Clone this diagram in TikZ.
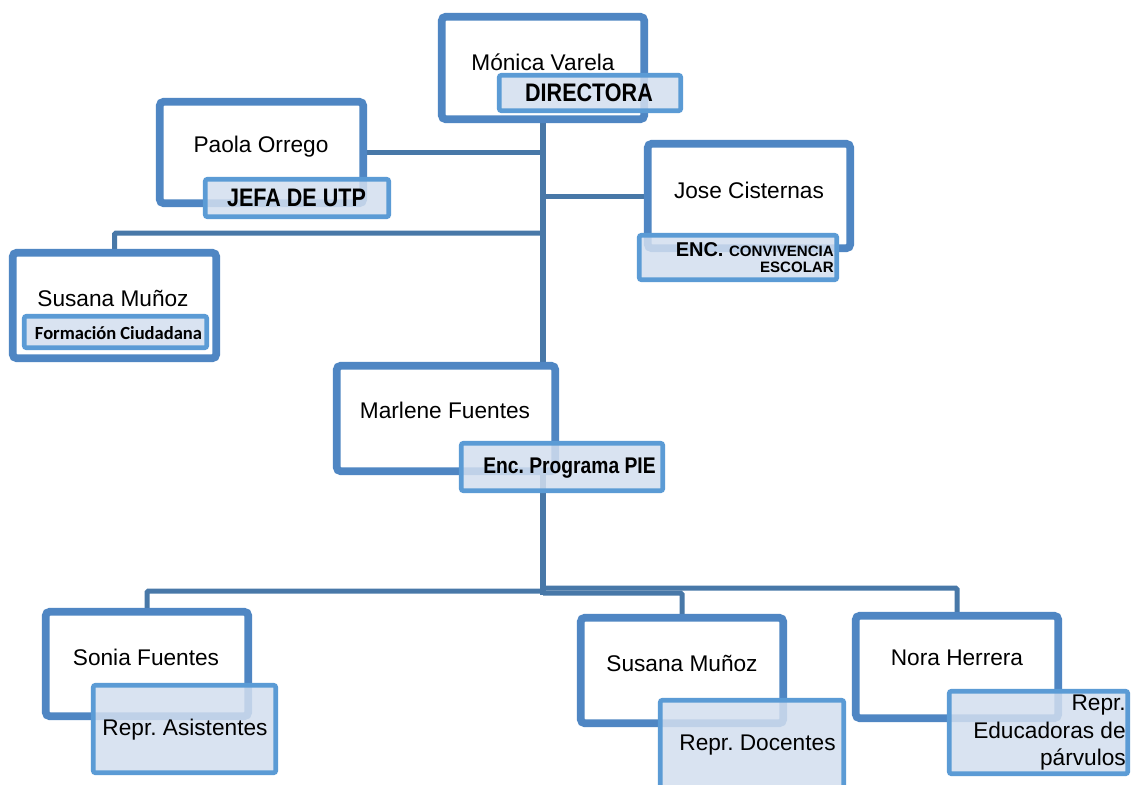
\documentclass[tikz,border=0pt]{standalone}
\usepackage{fontspec}
\setmainfont{Liberation Sans}
\newfontfamily\narrowfont{Liberation Sans}[FakeStretch=0.85]
\newfontfamily\calfont{Carlito}
\usetikzlibrary{shadows,backgrounds}
\frenchspacing

\definecolor{frame}{HTML}{4F86C3}
\definecolor{wire}{HTML}{4878A8}
\definecolor{tagline}{HTML}{5B9BD5}
\definecolor{tagfill}{HTML}{D3DFEF}

\tikzset{
  dims/.style 2 args={minimum width=#1*0.75pt, minimum height=#2*0.75pt},
  person/.style={draw=frame, line width=5.8pt, fill=white, rounded corners=3pt,
    inner sep=0pt, drop shadow={opacity=0.28, shadow xshift=1.8pt, shadow yshift=-2.2pt}},
  role/.style={draw=tagline, line width=3.4pt, fill=tagfill, fill opacity=0.85,
    rounded corners=1.5pt, inner sep=0pt},
  nametext/.style={inner sep=0pt, font=\fontsize{17pt}{20pt}\selectfont},
  roletext/.style={inner sep=0pt, font=\fontsize{17pt}{20.6pt}\selectfont},
  boldtag/.style={inner sep=0pt, font=\narrowfont\bfseries\fontsize{19pt}{22pt}\selectfont},
  trunk/.style={draw=wire, line width=4.5pt},
  branch/.style={draw=wire, line width=3.75pt, rounded corners=1pt},
}

\begin{document}
\begin{tikzpicture}[x=0.75pt, y=-0.75pt]
\useasboundingbox (0,0) rectangle (1132,785);

% people
\node[person, dims={202.5}{102.5}] (mv) at (543,68) {};
\node[person, dims={203.5}{101.5}] (pa) at (261.5,152.5) {};
\node[person, dims={202.5}{104.5}] (jc) at (749,196) {};
\node[person, dims={203.5}{105.5}] (sl) at (114.5,305.5) {};
\node[person, dims={218.5}{105.5}] (mf) at (446,418.5) {};
\node[person, dims={202.5}{104.5}] (sf) at (147,664) {};
\node[person, dims={202.5}{105.5}] (sb) at (682,670.5) {};
\node[person, dims={202.5}{102.5}] (nh) at (957,667) {};

% branching points
\coordinate (j1) at (543,233);
\coordinate (hubS) at (543,591);
\coordinate (hubD) at (543,593);
\coordinate (hubN) at (543,588);
\coordinate (hubEnd) at (543,595);

% connectors, behind the boxes
\begin{pgfonlayer}{background}
\fill[white] (0,0) rectangle (1132,785);
\path[trunk] (mv.south) -- (mv.south |- mf.north);
\path[branch] (pa.east) -- (pa.east -| mv.south);
\path[branch] (jc.west) -- (jc.west -| mv.south);
\path[branch] (j1) -| (sl.north);
\path[trunk] (mv.south |- mf.south) -- (hubEnd);
\path[branch] (hubS) -| (sf.north);
\path[branch] (hubD) -| (sb.north);
\path[branch] (hubN) -| (nh.north);
\end{pgfonlayer}

% role boxes
\node[role, dims={181.5}{35.5}] (mvl) at (590,93) {};
\node[role, dims={183.5}{37.5}] (pal) at (297,198) {};
\node[role, dims={197.5}{44.5}] (jcl) at (738,257.5) {};
\node[role, dims={182.5}{31.5}] (sll) at (115.5,332) {};
\node[role, dims={201.5}{47.5}] (mfl) at (562,467) {};
\node[role, dims={182.5}{87.5}] (sfl) at (184.5,729) {};
\node[role, dims={183.5}{87.5}] (sbl) at (752,744) {};
\node[role, dims={178.5}{82.5}] (nhl) at (1038.5,732.5) {};

% names
\node[nametext] (mvt) at (543,62) {Mónica Varela};
\node[nametext] (pat) at (261,147) {Paola Orrego};
\node[nametext] (jct) at (749,190) {Jose Cisternas};
\node[nametext] (slt) at (113,298) {Susana Muñoz};
\node[nametext] (mft) at (445,410) {Marlene Fuentes};
\node[nametext] (sft) at (146,657) {Sonia Fuentes};
\node[nametext] (sbt) at (682,663) {Susana Muñoz};
\node[nametext] (nht) at (957,658) {Nora Herrera};

% roles
\node[boldtag] (mvlt) at (589,93) {DIRECTORA};
\node[boldtag] (palt) at (296.5,198) {JEFA DE UTP};
\node[inner sep=0pt, anchor=east, align=right] (jclt) at (834,258)
  {{\bfseries\fontsize{15pt}{15pt}\selectfont ENC. }{\bfseries\fontsize{11.3pt}{15pt}\selectfont CONVIVENCIA}\\
   {\bfseries\fontsize{11.3pt}{15pt}\selectfont ESCOLAR}};
\node[inner sep=0pt, font=\calfont\bfseries\fontsize{13.9pt}{16pt}\selectfont] (sllt) at (118.5,333) {Formación Ciudadana};
\node[boldtag, font=\narrowfont\bfseries\fontsize{17pt}{20pt}\selectfont] (mflt) at (569.5,468) {Enc. Programa PIE};
\node[roletext] (sflt) at (185,730) {Repr. Asistentes};
\node[roletext] (sblt) at (757.5,745) {Repr. Docentes};
\node[roletext, anchor=east, align=right] (nhlt) at (1126,733) {Repr.\\Educadoras de\\párvulos};
\end{tikzpicture}
\end{document}
